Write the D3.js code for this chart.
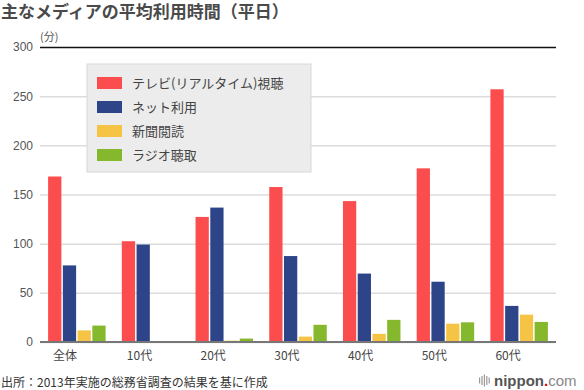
<!DOCTYPE html>
<html>
<head>
<meta charset="utf-8">
<script src="https://cdn.jsdelivr.net/npm/d3@7"></script>
<style>
  body { margin: 0; background: #fff; }
  svg { display: block; font-family: "Noto Sans CJK JP", "Noto Sans", sans-serif; }
</style>
</head>
<body>
<svg width="584" height="390"></svg>
<script>
// categories and series (minutes per weekday)
const categories = ['全体', '10代', '20代', '30代', '40代', '50代', '60代'];
const seriesNames = ['テレビ(リアルタイム)視聴', 'ネット利用', '新聞閲読', 'ラジオ聴取'];
const tvValues = [168.3, 102.5, 127.2, 157.6, 143.3, 176.6, 257.0];
const netValues = [77.9, 99.1, 136.7, 87.4, 69.6, 61.3, 36.7];
const paperValues = [11.8, 0.6, 1.4, 5.5, 8.3, 18.6, 27.8];
const radioValues = [16.7, 0.3, 3.5, 17.5, 22.5, 20.0, 20.4];
const yTicks = [0, 50, 100, 150, 200, 250, 300];
const colors = ['#fb4d4e', '#2d4489', '#f6c444', '#85b82c'];

const series = [tvValues, netValues, paperValues, radioValues];

const svg = d3.select('svg');
const margin = { left: 40, right: 28, top: 47, bottom: 48 };
const width = 584, height = 390;

const x0 = d3.scaleBand().domain(categories)
    .range([margin.left, width - margin.right])
    .paddingInner(0.22).paddingOuter(0.11);
const x1 = d3.scaleBand().domain(d3.range(series.length))
    .range([0, x0.bandwidth()]).paddingInner(0.1);
const y = d3.scaleLinear().domain([0, 300]).range([height - margin.bottom, margin.top]);

//title
svg.append('text')
    .attr('x', 1).attr('y', 18)
    .attr('font-size', 17).attr('font-weight', 'bold').attr('fill', '#4a4a4a')
    .text('主なメディアの平均利用時間（平日）');

//unit label
svg.append('text')
    .attr('x', 40).attr('y', 41)
    .attr('font-size', 11).attr('fill', '#555')
    .text('(分)');

//gridlines + tick labels
const yAxis = d3.axisLeft(y).tickValues(yTicks)
    .tickSize(-(width - margin.left - margin.right)).tickPadding(7);
const gy = svg.append('g')
    .attr('transform', `translate(${margin.left},0)`)
    .call(yAxis);
gy.select('.domain').remove();
gy.selectAll('.tick line')
    .attr('stroke', d => d === 300 ? '#111' : '#dcdcdc')
    .attr('stroke-width', d => d === 300 ? 1.3 : 1.5);
gy.selectAll('.tick text')
    .attr('font-size', 12).attr('fill', '#555')
    .attr('font-family', '"Liberation Sans", Arial, sans-serif');

//bars
const groups = svg.append('g').selectAll('g')
    .data(categories)
    .join('g')
    .attr('transform', d => `translate(${x0(d)},0)`);

groups.selectAll('rect')
    .data((d, i) => series.map((s, k) => ({ k, v: s[i] })))
    .join('rect')
    .attr('x', d => x1(d.k))
    .attr('width', x1.bandwidth())
    .attr('y', d => y(d.v))
    .attr('height', d => y(0) - y(d.v))
    .attr('fill', d => colors[d.k]);

//baseline
svg.append('line')
    .attr('x1', margin.left).attr('x2', width - margin.right)
    .attr('y1', y(0)).attr('y2', y(0))
    .attr('stroke', '#777').attr('stroke-width', 2);

//category labels
svg.append('g').selectAll('text')
    .data(categories)
    .join('text')
    .attr('x', d => x0(d) + 5)
    .attr('y', y(0) + 18)
    .attr('font-size', 12).attr('fill', '#444')
    .text(d => d);

//legend
const legend = svg.append('g').attr('transform', 'translate(87,64)');
legend.append('rect')
    .attr('width', 224).attr('height', 108)
    .attr('fill', '#ececec').attr('stroke', '#d8d8d8');
const items = legend.selectAll('g.item')
    .data(seriesNames)
    .join('g')
    .attr('class', 'item')
    .attr('transform', (d, i) => `translate(10,${13 + i * 24})`);
items.append('rect')
    .attr('width', 25).attr('height', 12)
    .attr('fill', (d, i) => colors[i]);
items.append('text')
    .attr('x', 35).attr('y', 6).attr('dy', '0.35em')
    .attr('font-size', 13).attr('fill', '#444')
    .text(d => d);

//source
svg.append('text')
    .attr('x', 1).attr('y', 387)
    .attr('font-size', 12).attr('fill', '#333')
    .text('出所：2013年実施の総務省調査の結果を基に作成');

//logo
const logo = svg.append('g').attr('transform', 'translate(479,386)');
const barH = [6, 9, 12, 9, 6];
logo.selectAll('rect')
    .data(barH)
    .join('rect')
    .attr('x', (d, i) => i * 2.4)
    .attr('y', d => -5.5 - d / 2)
    .attr('width', 1.2)
    .attr('height', d => d)
    .attr('fill', '#999');
const logoText = logo.append('text')
    .attr('x', 15).attr('y', 0)
    .attr('font-family', '"Liberation Sans", Arial, sans-serif')
    .attr('font-size', 15);
logoText.append('tspan').attr('font-weight', 'bold').attr('fill', '#555').text('nippon');
logoText.append('tspan').attr('font-weight', 'bold').attr('fill', '#e60012').text('.');
logoText.append('tspan').attr('fill', '#888').text('com');
</script>
</body>
</html>
